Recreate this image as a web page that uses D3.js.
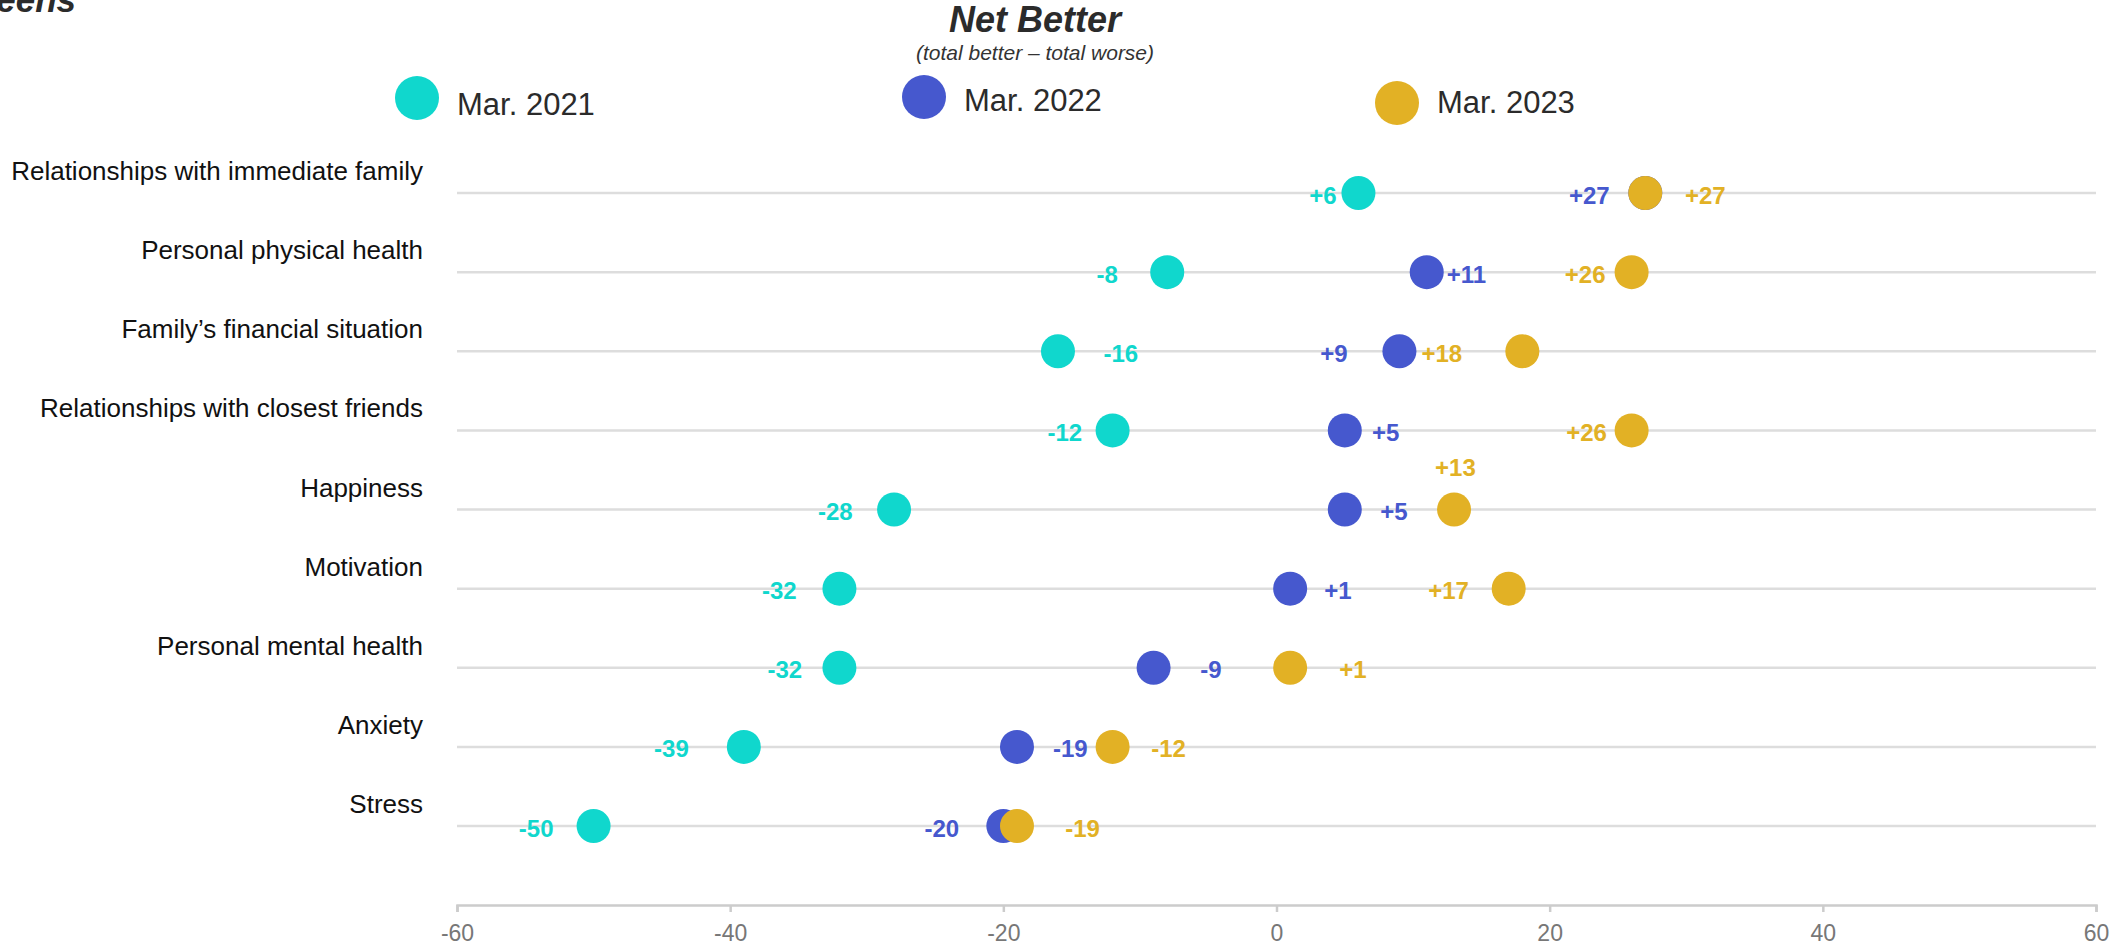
<!DOCTYPE html>
<html>
<head>
<meta charset="utf-8">
<script src="https://cdn.jsdelivr.net/npm/d3@7"></script>
<style>
  body { margin: 0; background: #fff; }
  svg { display: block; font-family: "Liberation Sans", Arial, sans-serif; }
  .axis path, .axis line { stroke: #cccccc; stroke-width: 2.5; }
  .axis text { fill: #777777; font-size: 23px; font-family: "Liberation Sans", Arial, sans-serif; }
</style>
</head>
<body>
<div id="chart"></div>
<script>
// categories, top to bottom
var categories = [
  "Relationships with immediate family",
  "Personal physical health",
  "Family’s financial situation",
  "Relationships with closest friends",
  "Happiness",
  "Motivation",
  "Personal mental health",
  "Anxiety",
  "Stress"
];

// net better values per survey wave
var mar2021 = [6, -8, -16, -12, -28, -32, -32, -39, -50];
var mar2022 = [27, 11, 9, 5, 5, 1, -9, -19, -20];
var mar2023 = [27, 26, 18, 26, 13, 17, 1, -12, -19];

// where each value label sits, in axis units
var labelAt2021 = [3.4, -12.4, -11.4, -15.5, -32.3, -36.4, -36.0, -44.3, -54.2];
var labelAt2022 = [22.9, 13.9, 4.2, 8.0, 8.6, 4.5, -4.8, -15.1, -24.5];
var labelAt2023 = [31.4, 22.6, 12.1, 22.7, 13.1, 12.6, 5.6, -7.9, -14.2];

var seriesNames = ["Mar. 2021", "Mar. 2022", "Mar. 2023"];
var xTicks = [-60, -40, -20, 0, 20, 40, 60];

var colors = ["#10d7cd", "#4658ce", "#e2b125"];

var W = 2116, H = 947;
var plotLeft = 457, plotRight = 2096;
var rowTop = 193, rowBottom = 826, axisY = 905;

var x = d3.scaleLinear().domain([-60, 60]).range([plotLeft, plotRight]);
var y = d3.scalePoint().domain(categories).range([rowTop, rowBottom]);

var svg = d3.select("#chart").append("svg")
  .attr("width", W)
  .attr("height", H);

// cut-off heading at the top left
svg.append("text")
  .attr("x", 76).attr("y", 12)
  .attr("text-anchor", "end")
  .style("font-size", "35px")
  .style("font-weight", "bold")
  .style("font-style", "italic")
  .attr("fill", "#2b2b2b")
  .text("Teens");

// title
svg.append("text")
  .attr("x", 1035).attr("y", 32)
  .attr("text-anchor", "middle")
  .style("font-size", "36px")
  .style("font-weight", "bold")
  .style("font-style", "italic")
  .attr("fill", "#2b2b2b")
  .text("Net Better");

svg.append("text")
  .attr("x", 1035).attr("y", 60)
  .attr("text-anchor", "middle")
  .style("font-size", "21px")
  .style("font-style", "italic")
  .attr("fill", "#333")
  .text("(total better – total worse)");

// legend
var legendPos = [
  {cx: 417, cy: 98, ty: 115},
  {cx: 924, cy: 97, ty: 111},
  {cx: 1397, cy: 103, ty: 113}
];
var legend = svg.append("g").attr("class", "legend");
seriesNames.forEach(function(name, i) {
  var p = legendPos[i];
  legend.append("circle")
    .attr("cx", p.cx).attr("cy", p.cy).attr("r", 22)
    .attr("fill", colors[i]);
  legend.append("text")
    .attr("x", p.cx + 40).attr("y", p.ty)
    .style("font-size", "31px")
    .attr("fill", "#2b2b2b")
    .text(name);
});

// row gridlines
svg.append("g").selectAll("line")
  .data(categories).enter()
  .append("line")
  .attr("x1", plotLeft).attr("x2", plotRight)
  .attr("y1", function(d) { return y(d); })
  .attr("y2", function(d) { return y(d); })
  .attr("stroke", "#dddddd")
  .attr("stroke-width", 2.5);

// category labels
svg.append("g").selectAll("text")
  .data(categories).enter()
  .append("text")
  .attr("x", 423)
  .attr("y", function(d) { return y(d) - 13; })
  .attr("text-anchor", "end")
  .style("font-size", "26px")
  .attr("fill", "#111")
  .text(function(d) { return d; });

// x axis, plain hyphen minus like the original
var axis = svg.append("g")
  .attr("class", "axis")
  .attr("transform", "translate(0," + axisY + ")")
  .call(d3.axisBottom(x).tickValues(xTicks).tickSize(7).tickPadding(13)
    .tickFormat(function(d) { return String(d); }));

// dots
var series = [mar2021, mar2022, mar2023];
var labelAts = [labelAt2021, labelAt2022, labelAt2023];
var fmt = function(v) { return (v > 0 ? "+" : "") + v; };

series.forEach(function(vals, s) {
  svg.append("g").selectAll("circle")
    .data(vals).enter()
    .append("circle")
    .attr("cx", function(d) { return x(d); })
    .attr("cy", function(d, i) { return y(categories[i]); })
    .attr("r", 17)
    .attr("fill", colors[s]);
});

// value labels; the Mar. 2023 Happiness label sits above its row
series.forEach(function(vals, s) {
  svg.append("g").selectAll("text")
    .data(vals).enter()
    .append("text")
    .attr("x", function(d, i) { return x(labelAts[s][i]); })
    .attr("y", function(d, i) {
      var lift = (s === 2 && i === 4) ? -42 : 2;
      return y(categories[i]) + lift;
    })
    .attr("text-anchor", "middle")
    .attr("dominant-baseline", "central")
    .style("font-size", "24px")
    .style("font-weight", "bold")
    .attr("fill", colors[s])
    .text(function(d) { return fmt(d); });
});
</script>
</body>
</html>
